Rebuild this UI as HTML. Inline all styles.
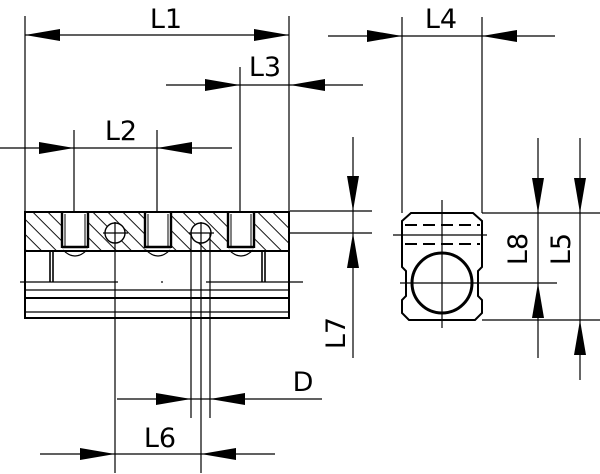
<!DOCTYPE html>
<html><head><style>html,body{margin:0;padding:0;background:#fff}svg{display:block}</style></head>
<body>
<svg width="600" height="474" viewBox="0 0 600 474" xmlns="http://www.w3.org/2000/svg" font-family="'DejaVu Sans','Liberation Sans',sans-serif">
<defs>
<pattern id="h" patternUnits="userSpaceOnUse" width="10.6" height="10.6" patternTransform="rotate(-45)">
<line x1="0" y1="0" x2="0" y2="10.6" stroke="#000" stroke-width="1.8"/>
</pattern>
<g id="ar"><polygon points="0,0 -35,-6 -35,6" fill="#000"/></g>
</defs>
<g stroke="#000" stroke-width="1.2" fill="none">
<line x1="25" y1="16" x2="25" y2="212"/><line x1="289" y1="16" x2="289" y2="212"/>
<line x1="25" y1="35" x2="289" y2="35"/>
<line x1="240" y1="67" x2="240" y2="212"/>
<line x1="166" y1="85" x2="363" y2="85"/>
<line x1="74" y1="130" x2="74" y2="212"/><line x1="157" y1="130" x2="157" y2="212"/>
<line x1="0" y1="148" x2="232" y2="148"/>
<line x1="353" y1="137" x2="353" y2="358"/>
<line x1="290" y1="211" x2="372" y2="211"/><line x1="290" y1="233" x2="372" y2="233"/>
<rect x="25" y="212" width="264" height="39" fill="url(#h)" stroke="none"/>
</g>
<g stroke="#000" fill="#fff">
<g id="hole">
<path d="M61,212 V248 Q75,262 89,248 V212 Z" stroke="none"/>
<line x1="62" y1="212" x2="62" y2="248" stroke-width="2.4"/>
<line x1="88" y1="212" x2="88" y2="248" stroke-width="2.4"/>
<line x1="65" y1="214" x2="65" y2="247" stroke-width="1"/>
<line x1="85" y1="214" x2="85" y2="247" stroke-width="1"/>
<line x1="62" y1="247" x2="88" y2="247" stroke-width="2.4"/>
<path d="M63,250 Q75,262 87,250" fill="none" stroke-width="1.2"/>
</g>
<use href="#hole" x="83"/><use href="#hole" x="166"/>
<circle cx="115" cy="233" r="10" stroke-width="1.4"/>
<circle cx="201" cy="233" r="10" stroke-width="1.4"/>
</g>
<g stroke="#000" stroke-width="1.2" fill="none">
<line x1="103" y1="233" x2="128" y2="233"/><line x1="189" y1="233" x2="214" y2="233"/>
<line x1="115" y1="222" x2="115" y2="473"/>
<line x1="201" y1="222" x2="201" y2="473"/>
<line x1="191" y1="233" x2="191" y2="418"/><line x1="210" y1="233" x2="210" y2="418"/>
<rect x="25" y="212" width="264" height="106" stroke-width="2"/>
<line x1="25" y1="251" x2="289" y2="251" stroke-width="2"/>
<line x1="50" y1="251" x2="50" y2="282" stroke-width="1.6"/><line x1="53" y1="251" x2="53" y2="282" stroke-width="1.6"/>
<line x1="262" y1="251" x2="262" y2="282" stroke-width="1.6"/><line x1="265" y1="251" x2="265" y2="282" stroke-width="1.6"/>
<line x1="20" y1="282" x2="118" y2="282"/><line x1="206" y1="282" x2="303" y2="282"/>
<line x1="25" y1="290" x2="289" y2="290"/>
<line x1="25" y1="298" x2="289" y2="298" stroke-width="2"/>
<line x1="25" y1="312" x2="289" y2="312"/>
<line x1="161" y1="282" x2="163" y2="282"/>
<line x1="117" y1="399" x2="322" y2="399"/>
<line x1="40" y1="454" x2="275" y2="454"/>
<line x1="402" y1="17" x2="402" y2="213"/><line x1="482" y1="17" x2="482" y2="213"/>
<line x1="328" y1="36" x2="555" y2="36"/>
<path d="M402,221 L411,213 L473,213 L482,221 V267 L478,271 V296 L482,300 V313 L475,320 L409,320 L402,313 V300 L406,296 V271 L402,267 Z" stroke-width="2"/>
<line x1="405" y1="225" x2="480" y2="225" stroke-width="2" stroke-dasharray="12,6"/>
<line x1="405" y1="244" x2="480" y2="244" stroke-width="2" stroke-dasharray="12,6"/>
<line x1="393" y1="235" x2="487" y2="235"/>
<line x1="442" y1="200" x2="442" y2="328"/>
<circle cx="442" cy="283" r="30" stroke-width="3"/>
<line x1="400" y1="283" x2="557" y2="283"/>
<line x1="482" y1="213" x2="600" y2="213"/><line x1="482" y1="320" x2="600" y2="320"/>
<line x1="538" y1="138" x2="538" y2="358"/>
<line x1="580" y1="138" x2="580" y2="380"/>
</g>
<g>
<use href="#ar" transform="translate(25,35) rotate(180)"/><use href="#ar" transform="translate(289,35)"/>
<use href="#ar" transform="translate(240,85)"/><use href="#ar" transform="translate(290,85) rotate(180)"/>
<use href="#ar" transform="translate(74,148)"/><use href="#ar" transform="translate(157,148) rotate(180)"/>
<use href="#ar" transform="translate(353,211) rotate(90)"/><use href="#ar" transform="translate(353,233) rotate(-90)"/>
<use href="#ar" transform="translate(191,399)"/><use href="#ar" transform="translate(210,399) rotate(180)"/>
<use href="#ar" transform="translate(115,454)"/><use href="#ar" transform="translate(201,454) rotate(180)"/>
<use href="#ar" transform="translate(402,36)"/><use href="#ar" transform="translate(482,36) rotate(180)"/>
<use href="#ar" transform="translate(538,213) rotate(90)"/><use href="#ar" transform="translate(538,283) rotate(-90)"/>
<use href="#ar" transform="translate(580,213) rotate(90)"/><use href="#ar" transform="translate(580,320) rotate(-90)"/>
</g>
<g font-size="27" fill="#000" text-anchor="middle">
<text x="166" y="28">L1</text>
<text x="265" y="76">L3</text>
<text x="121" y="140">L2</text>
<text x="441" y="28">L4</text>
<text x="303" y="391">D</text>
<text x="160" y="447">L6</text>
<text transform="translate(345,333) rotate(-90)">L7</text>
<text transform="translate(527,249) rotate(-90)">L8</text>
<text transform="translate(570,249) rotate(-90)">L5</text>
</g>
</svg>
</body></html>
